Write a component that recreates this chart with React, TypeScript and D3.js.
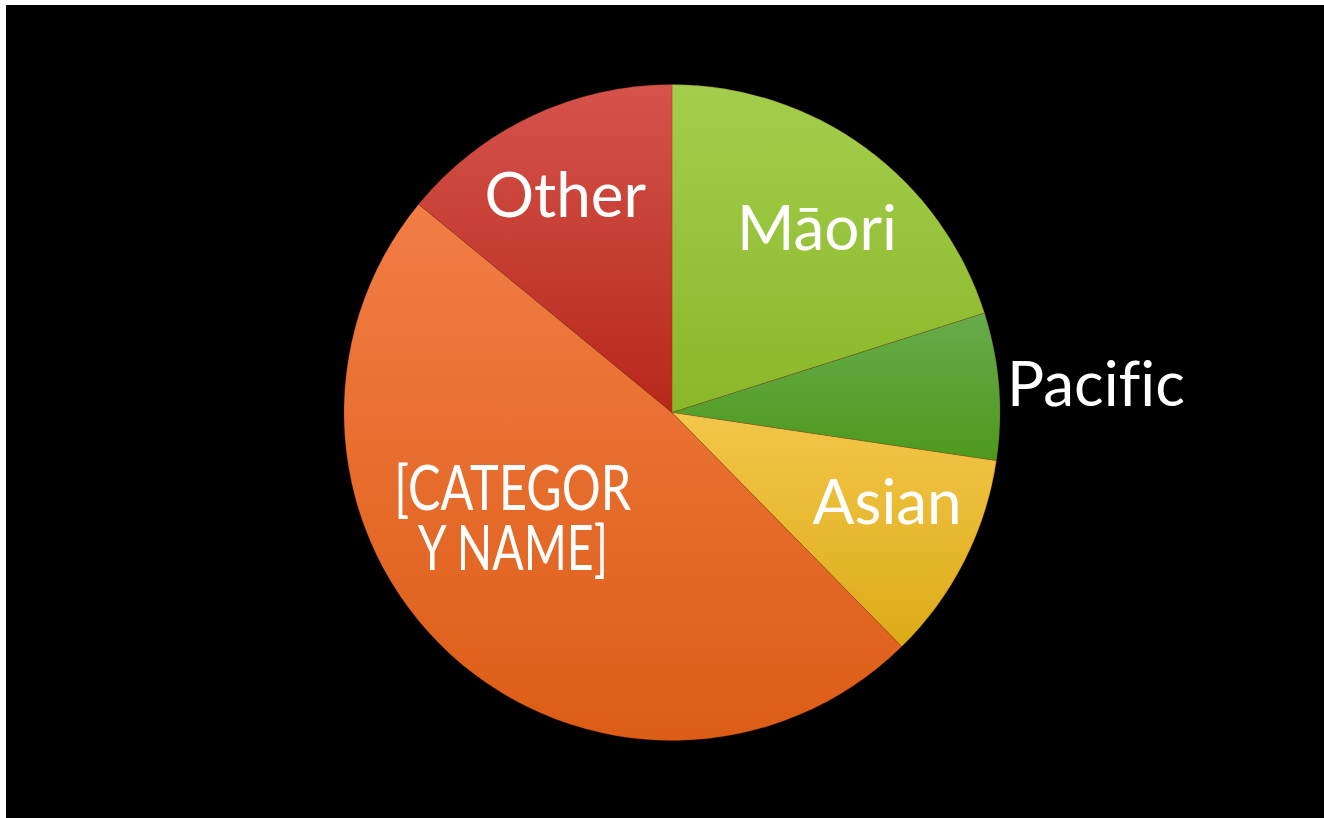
import { useMemo } from "react";
import * as d3 from "d3";

// slice values in percent, clockwise from 12 o'clock
const categories = ["Māori", "Pacific", "Asian", "[CATEGORY NAME]", "Other"];
const values = [20.1, 7.25, 10.3, 48.3, 14.05];
const labelLines = [["Māori"], ["Pacific"], ["Asian"], ["[CATEGOR", "Y NAME]"], ["Other"]];
const topColors = ["#a3ce4d", "#67ac4b", "#f4c64a", "#f27d45", "#d5534b"];
const bottomColors = ["#8bb729", "#4d991d", "#dbab17", "#dc5d16", "#b7281a"];

const W = 1324;
const H = 818;

export default function App() {
    const cx = 672;
    const cy = 412.5;
    const r = 328;

    const arcs = useMemo(() => {
        return d3
            .pie<number>()
            .sort(null)
            .value((d) => d)(values);
    }, []);

    const arcGen = d3.arc<d3.PieArcDatum<number>>().innerRadius(0).outerRadius(r);

    // label placement tweaks (degrees off the slice middle, radius fraction)
    const angTweak = [2, 0, -4.5, 14, -0.8];
    const radFrac = [0.715, 1, 0.71, 0.582, 0.74];

    const labelPos = (a: d3.PieArcDatum<number>, i: number) => {
        const mid = (a.startAngle + a.endAngle) / 2;
        if (categories[i] === "Pacific") {
            const y = -r * Math.cos(mid) - 3;
            return { x: r + 7, y, anchor: "start" };
        }
        const ang = mid + (angTweak[i] * Math.PI) / 180;
        const k = radFrac[i];
        return { x: k * r * Math.sin(ang), y: -k * r * Math.cos(ang), anchor: "middle" };
    };

    const fs = 62;
    const lh = 60;
    // the original face has narrow capitals; squeeze the two-line label to fit
    const squeeze: Record<string, number> = { "[CATEGOR": 237, "Y NAME]": 190 };

    return (
        <svg
            width={W}
            height={H}
            style={{ position: "absolute", left: 0, top: 0, display: "block" }}
        >
            <defs>
                {categories.map((c, i) => (
                    <linearGradient key={c} id={`g${i}`} x1="0" y1="0" x2="0" y2="1">
                        <stop offset="0%" stopColor={topColors[i]} />
                        <stop offset="100%" stopColor={bottomColors[i]} />
                    </linearGradient>
                ))}
            </defs>
            <rect x={0} y={0} width={W} height={H} fill="#ffffff" />
            <rect x={6} y={5} width={W - 6} height={H - 5} fill="#000000" />
            <g transform={`translate(${cx},${cy})`}>
                {arcs.map((a, i) => (
                    <path
                        key={categories[i]}
                        d={arcGen(a) || ""}
                        fill={`url(#g${i})`}
                        stroke="rgba(140,50,20,0.25)"
                        strokeWidth={1}
                    />
                ))}
                {arcs.map((a, i) => {
                    const p = labelPos(a, i);
                    const lines = labelLines[i];
                    const y0 = p.y - ((lines.length - 1) * lh) / 2 + fs * 0.36;
                    return (
                        <text
                            key={categories[i]}
                            x={p.x}
                            y={y0}
                            textAnchor={p.anchor}
                            fill="#ffffff"
                            fontFamily="Lato, 'Open Sans', sans-serif"
                            fontSize={fs}
                            style={{ fontVariantLigatures: "none" }}
                        >
                            {lines.map((l, j) => (
                                <tspan
                                    key={j}
                                    x={p.x}
                                    y={y0 + j * lh}
                                    textLength={squeeze[l]}
                                    lengthAdjust={squeeze[l] ? "spacingAndGlyphs" : undefined}
                                >
                                    {l}
                                </tspan>
                            ))}
                        </text>
                    );
                })}
            </g>
        </svg>
    );
}
